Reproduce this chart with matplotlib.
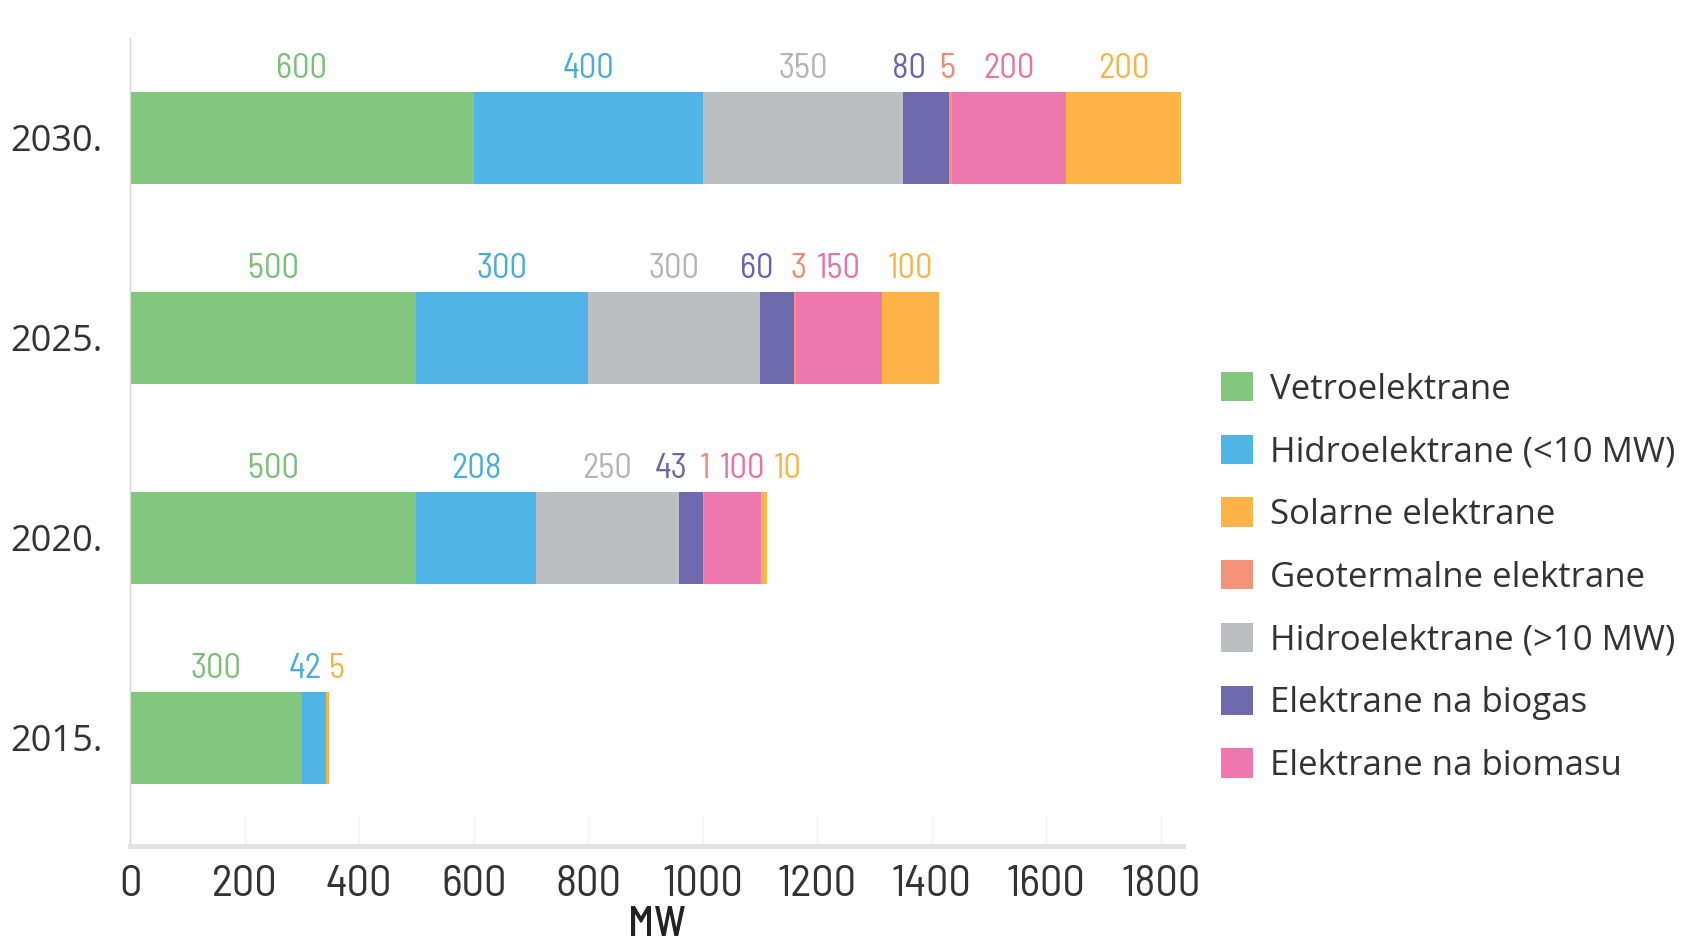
import matplotlib
matplotlib.use("Agg")
import matplotlib.pyplot as plt
from matplotlib import font_manager as fm
import numpy as np
from matplotlib.patches import Patch

# ---- data ----
years = ["2015.", "2020.", "2025.", "2030."]
vetro = [300, 500, 500, 600]
hidro_small = [42, 208, 300, 400]
hidro_big = [0, 250, 300, 350]
biogas = [0, 43, 60, 80]
geoterm = [0, 1, 3, 5]
biomasa = [0, 100, 150, 200]
solar = [5, 10, 100, 200]

series_names = ["Vetroelektrane", "Hidroelektrane (<10 MW)", "Hidroelektrane (>10 MW)",
                "Elektrane na biogas", "Geotermalne elektrane", "Elektrane na biomasu",
                "Solarne elektrane"]
series_values = [vetro, hidro_small, hidro_big, biogas, geoterm, biomasa, solar]
bar_colors = ["#82c77d", "#4fb5e6", "#bdbec1", "#6f6aae", "#f4927a", "#ef78ae", "#fbb445"]
label_colors = ["#7cc077", "#47ace0", "#b5b5b8", "#6a64aa", "#f08a74", "#e973a8", "#f5b548"]

legend_order = ["Vetroelektrane", "Hidroelektrane (<10 MW)", "Solarne elektrane",
                "Geotermalne elektrane", "Hidroelektrane (>10 MW)", "Elektrane na biogas",
                "Elektrane na biomasu"]

# small horizontal nudges of value labels (data units) to avoid overlaps
label_dx = {
    (3, 3): -30, (3, 4): -4,
    (2, 3): -36, (2, 4): 6,
    (1, 3): -34, (1, 4): 3, (1, 5): 17, (1, 6): 41,
    (0, 1): -15, (0, 6): 17,
}

# ---- find a condensed font if one is installed ----
def find_condensed(weight_words=()):
    cond = ("condensed", "semi-condensed", "extra-condensed", "ultra-condensed")
    best = None
    for f in fm.fontManager.ttflist:
        nm = f.name.lower()
        fn = f.fname.lower()
        st = str(f.stretch).lower()
        is_cond = st in cond or "narrow" in nm or "condensed" in nm \
            or "narrow" in fn or "condensed" in fn
        if not is_cond or str(f.style) != "normal":
            continue
        if "italic" in fn or "oblique" in fn:
            continue
        heavy = any(w in fn for w in ("bold", "light", "thin", "black", "medium",
                                      "semibold", "extrabold"))
        if weight_words:
            if not any(w in fn for w in weight_words) or "semibold" in fn or "extra" in fn:
                continue
        elif heavy:
            continue
        score = 0 if ("semi" in st or "semicond" in fn) else 1
        if best is None or score < best[0]:
            best = (score, f.fname)
    return best[1] if best else None

cond_path = find_condensed()
cond_med_path = find_condensed(("medium",)) or cond_path

def narrow_fp(size, path=None):
    p = path or cond_path
    if p:
        return fm.FontProperties(fname=p, size=size)
    return fm.FontProperties(family="DejaVu Sans", size=size * 0.78)

regular = ["Open Sans", "DejaVu Sans"]

fig = plt.figure(figsize=(16.86, 9.5), dpi=100)
ax = fig.add_axes([0.0772, 0.11, 0.6243, 0.85])

ypos = np.arange(len(years))
bar_h = 0.46
left = np.zeros(len(years))
for si, (vals, col) in enumerate(zip(series_values, bar_colors)):
    vals = np.array(vals, dtype=float)
    ax.barh(ypos, vals, left=left, height=bar_h, color=col, edgecolor="none")
    for yi, v in enumerate(vals):
        if v > 0:
            xc = left[yi] + v / 2 + label_dx.get((yi, si), 0)
            ax.annotate(f"{int(v)}", xy=(xc, ypos[yi] + bar_h / 2), xytext=(0, 5),
                        textcoords="offset points", ha="center", va="bottom",
                        fontproperties=narrow_fp(25), color=label_colors[si])
    left += vals

ax.set_xlim(0, 1838)
ax.set_ylim(-0.54, 3.5)
ax.set_yticks(ypos)
ax.set_yticklabels(years, family=regular, fontsize=26, color="#333333")
ax.set_xticks(np.arange(0, 1801, 200))
ax.set_xticklabels([str(v) for v in range(0, 1801, 200)], fontproperties=narrow_fp(32),
                   color="#333333")
ax.tick_params(axis="y", length=0, pad=20)
ax.tick_params(axis="x", direction="in", length=22, width=1, color="#f3f3f3", pad=14)
for i, tk in enumerate(ax.xaxis.get_major_ticks()):
    if i in (6, 7):
        tk.tick1line.set_color("#a8a8a8")
    elif i in (5, 8):
        tk.tick1line.set_color("#e0e0e0")
ax.set_xlabel("MW", fontproperties=narrow_fp(30, cond_med_path), color="#222222",
              labelpad=1)

for s in ["top", "right"]:
    ax.spines[s].set_visible(False)
ax.spines["left"].set_color("#d5d5d5")
ax.spines["left"].set_linewidth(1)
ax.spines["bottom"].set_color("#e2e2e2")
ax.spines["bottom"].set_linewidth(3.5)

handles = [Patch(facecolor=bar_colors[series_names.index(n)], edgecolor="none")
           for n in legend_order]
leg = fig.legend(handles, legend_order, loc="upper left", bbox_to_anchor=(0.716, 0.623),
                 frameon=False, prop={"family": regular, "size": 25},
                 handlelength=0.92, handleheight=0.92, handletextpad=0.5,
                 labelspacing=0.81, borderaxespad=0)
for t in leg.get_texts():
    t.set_color("#333333")

fig.savefig("out.png", dpi=100)
